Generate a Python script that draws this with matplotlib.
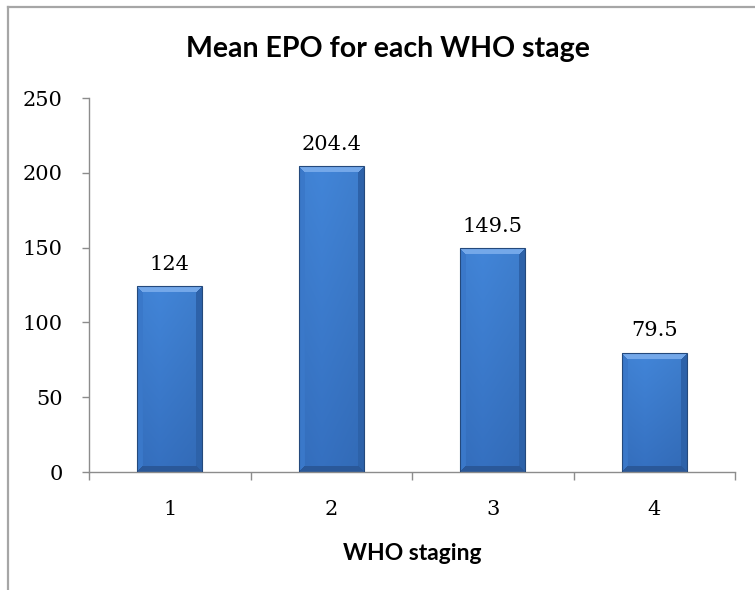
import numpy as np
import matplotlib.pyplot as plt
from matplotlib.lines import Line2D
from matplotlib.patches import Rectangle
from matplotlib.colors import to_rgb

# --- Data ---
stages = ['1', '2', '3', '4']
mean_epo = [124, 204.4, 149.5, 79.5]
value_labels = ['124', '204.4', '149.5', '79.5']
y_ticks = [0, 50, 100, 150, 200, 250]

TITLE_FONT = ['Lato', 'DejaVu Sans']
NUM_FONT = ['DejaVu Serif']

fig = plt.figure(figsize=(7.55, 5.9), dpi=100, facecolor='white')
ax = fig.add_axes([89 / 755, 1 - 472 / 590, 646 / 755, 374 / 590])

ax.set_xlim(-0.5, len(stages) - 0.5)
ax.set_ylim(0, 250)

# --- Bevelled bars (pixel shaded image clipped to each bar) ---
body_top = np.array(to_rgb('#4285d8'))
body_bot = np.array(to_rgb('#3570c0'))
bevel_top = np.array(to_rgb('#74a8ea'))
bevel_left = np.array(to_rgb('#3a78c9'))
bevel_right = np.array(to_rgb('#2d62a9'))
bevel_bot = np.array(to_rgb('#2a5899'))

px_per_x = 646 / len(stages)
px_per_y = 374 / 250
bar_w = 0.4
bev = 6

for i, v in enumerate(mean_epo):
    W = int(round(bar_w * px_per_x))
    H = max(int(round(v * px_per_y)), 2 * bev + 1)
    yy, xx = np.mgrid[0:H, 0:W]
    d_top = yy
    d_bot = H - 1 - yy
    d_left = xx
    d_right = W - 1 - xx
    img = np.zeros((H, W, 3))
    t = (yy / (H - 1))[..., None]
    img[:] = body_top * (1 - t) + body_bot * t
    # slight horizontal shading across the body
    s = (xx / (W - 1))[..., None]
    img *= 1.0 - 0.08 * np.abs(s - 0.35)
    dmin = np.minimum.reduce([d_top, d_bot, d_left, d_right])
    m = dmin < bev
    top_m = m & (d_top == dmin)
    bot_m = m & (d_bot == dmin) & ~top_m
    left_m = m & (d_left == dmin) & ~top_m & ~bot_m
    right_m = m & (d_right == dmin) & ~top_m & ~bot_m & ~left_m
    img[top_m] = bevel_top
    img[bot_m] = bevel_bot
    img[left_m] = bevel_left
    img[right_m] = bevel_right
    x0, x1 = i - bar_w / 2, i + bar_w / 2
    ax.imshow(img, extent=[x0, x1, 0, v], origin='upper', aspect='auto',
              interpolation='bilinear', zorder=2)
    ax.add_patch(Rectangle((x0, 0), bar_w, v, fill=False,
                           edgecolor='#24497c', linewidth=0.8, zorder=3))
    ax.annotate(value_labels[i], (i, v), xytext=(0, 12), textcoords='offset points',
                ha='center', va='baseline', fontsize=15, family=NUM_FONT,
                color='black', zorder=4)

# keep limits after imshow
ax.set_xlim(-0.5, len(stages) - 0.5)
ax.set_ylim(0, 250)

# --- Axes styling ---
for side in ('top', 'right'):
    ax.spines[side].set_visible(False)
for side in ('left', 'bottom'):
    ax.spines[side].set_color('#8c8c8c')
    ax.spines[side].set_linewidth(1.0)

ax.set_yticks(y_ticks)
ax.set_yticklabels([str(t) for t in y_ticks], family=NUM_FONT, fontsize=15)
ax.tick_params(axis='y', direction='out', length=5, width=1.0, color='#8c8c8c',
               pad=14)

ax.set_xticks(range(len(stages)))
ax.set_xticklabels(stages, family=NUM_FONT, fontsize=15)
ax.set_xticks(np.arange(-0.5, len(stages)), minor=True)
ax.tick_params(axis='x', which='major', length=0, pad=20)
ax.tick_params(axis='x', which='minor', direction='out', length=6, width=1.0,
               color='#8c8c8c')

# axis title centred under the plot area
fig.text((89 + 735) / 2 / 755, 1 - 560 / 590, 'WHO staging', ha='center',
         va='baseline', family=TITLE_FONT, fontsize=16.5, fontweight='bold')

fig.text(388 / 755, 1 - 57 / 590, 'Mean EPO for each WHO stage', ha='center',
         va='baseline', family=TITLE_FONT, fontsize=20.5, fontweight='bold')

# --- Chart area border ---
fig.add_artist(Line2D([8 / 755, 1.0], [1 - 7 / 590, 1 - 7 / 590],
                      transform=fig.transFigure, color='#a6a6a6', linewidth=1.6))
fig.add_artist(Line2D([8 / 755, 8 / 755], [0.0, 1 - 7 / 590],
                      transform=fig.transFigure, color='#a6a6a6', linewidth=1.6))

fig.savefig('out.png', dpi=100, facecolor='white')
